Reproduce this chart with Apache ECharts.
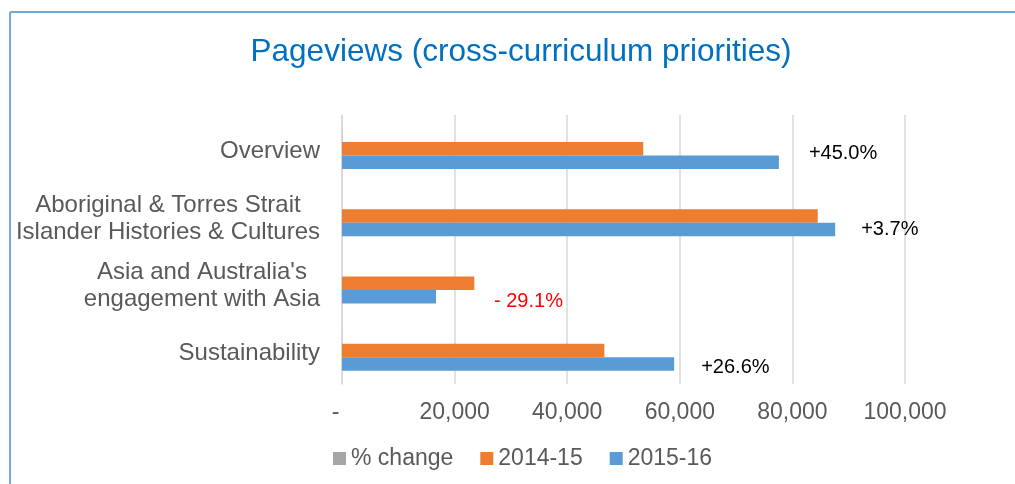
<!DOCTYPE html>
<html>
<head>
<meta charset="utf-8">
<title>Pageviews (cross-curriculum priorities)</title>
<script src="https://cdn.jsdelivr.net/npm/echarts@6/dist/echarts.min.js"></script>
<style>
  html, body { margin: 0; padding: 0; background: #fff; }
  #main { width: 1015px; height: 484px; }
</style>
</head>
<body>
<div id="main"></div>
<script>
// data
const categories = [
  "Overview",
  "Aboriginal & Torres Strait\nIslander Histories & Cultures",
  "Asia and Australia's\nengagement with Asia",
  "Sustainability"
];
const views1415 = [53500, 84500, 23500, 46600];
const views1516 = [77600, 87600, 16700, 59000];
const pctChange = [45.0, 3.7, -29.1, 26.6];
const pctLabels = ["+45.0%", "+3.7%", "- 29.1%", "+26.6%"];
const xTicks = [0, 20000, 40000, 60000, 80000, 100000];

// where Excel's hand-placed labels sit, relative to the end of the 2015-16 bar
const labelOffsets = [[25, -9], [21, 0], [53, 5], [22, 4]];
const labelColors = ["#000", "#000", "#ff0000", "#000"];

let chart = echarts.init(document.getElementById("main"));

let option = {
  animation: false,
  textStyle: { fontFamily: "Liberation Sans, Arial, sans-serif" },
  title: {
    text: "Pageviews (cross-curriculum priorities)",
    left: 516,
    textAlign: "center",
    top: 31,
    textStyle: { color: "#0070C0", fontSize: 31.5, fontWeight: "normal" }
  },
  graphic: [
    { type: "line", shape: { x1: 10, y1: 12, x2: 1015, y2: 12 }, style: { stroke: "#74A7DB", lineWidth: 2 } },
    { type: "line", shape: { x1: 10, y1: 12, x2: 10, y2: 484 }, style: { stroke: "#74A7DB", lineWidth: 2 } }
  ],
  legend: {
    data: ["% change", "2014-15", "2015-16"],
    left: 328,
    top: 442,
    icon: "rect",
    itemWidth: 13,
    itemHeight: 13,
    itemGap: 27,
    textStyle: { color: "#595959", fontSize: 23 }
  },
  grid: { left: 342, right: 110, top: 115, bottom: 100 },
  xAxis: {
    type: "value",
    min: xTicks[0],
    max: xTicks[xTicks.length - 1],
    interval: 20000,
    axisLine: { show: false },
    axisTick: { show: false },
    splitLine: { lineStyle: { color: "#d9d9d9", width: 1.5 } },
    axisLabel: {
      color: "#595959",
      fontSize: 23,
      margin: 17,
      formatter: v => (v === 0 ? "-  " : v.toLocaleString("en-US"))
    }
  },
  yAxis: {
    type: "category",
    inverse: true,
    data: categories,
    axisLine: { lineStyle: { color: "#d9d9d9", width: 1.5 } },
    axisTick: { show: false },
    axisLabel: {
      color: "#595959",
      fontSize: 24,
      margin: 22,
      lineHeight: 27,
      padding: [6, 0, 0, 0],
      formatter: v => v.split("\n").map(s => "{c|" + s + "}").join("\n"),
      rich: { c: { align: "center", fontSize: 24, color: "#595959", lineHeight: 27 } }
    }
  },
  series: [
    {
      name: "% change",
      type: "bar",
      data: pctChange,
      barWidth: 13.5,
      barGap: "0%",
      silent: true,
      itemStyle: { color: "#A5A5A5" }
    },
    {
      name: "2014-15",
      type: "bar",
      data: views1415,
      barWidth: 13.5,
      barGap: "0%",
      itemStyle: { color: "#ED7D31" }
    },
    {
      name: "2015-16",
      type: "bar",
      barWidth: 13.5,
      barGap: "0%",
      itemStyle: { color: "#5B9BD5" },
      data: views1516.map((v, i) => ({
        value: v,
        label: {
          show: true,
          position: "right",
          offset: labelOffsets[i],
          color: labelColors[i],
          fontSize: 20,
          formatter: () => pctLabels[i]
        }
      }))
    }
  ]
};

chart.setOption(option);

window.addEventListener("resize", function() {
  chart.resize();
});
</script>
</body>
</html>
